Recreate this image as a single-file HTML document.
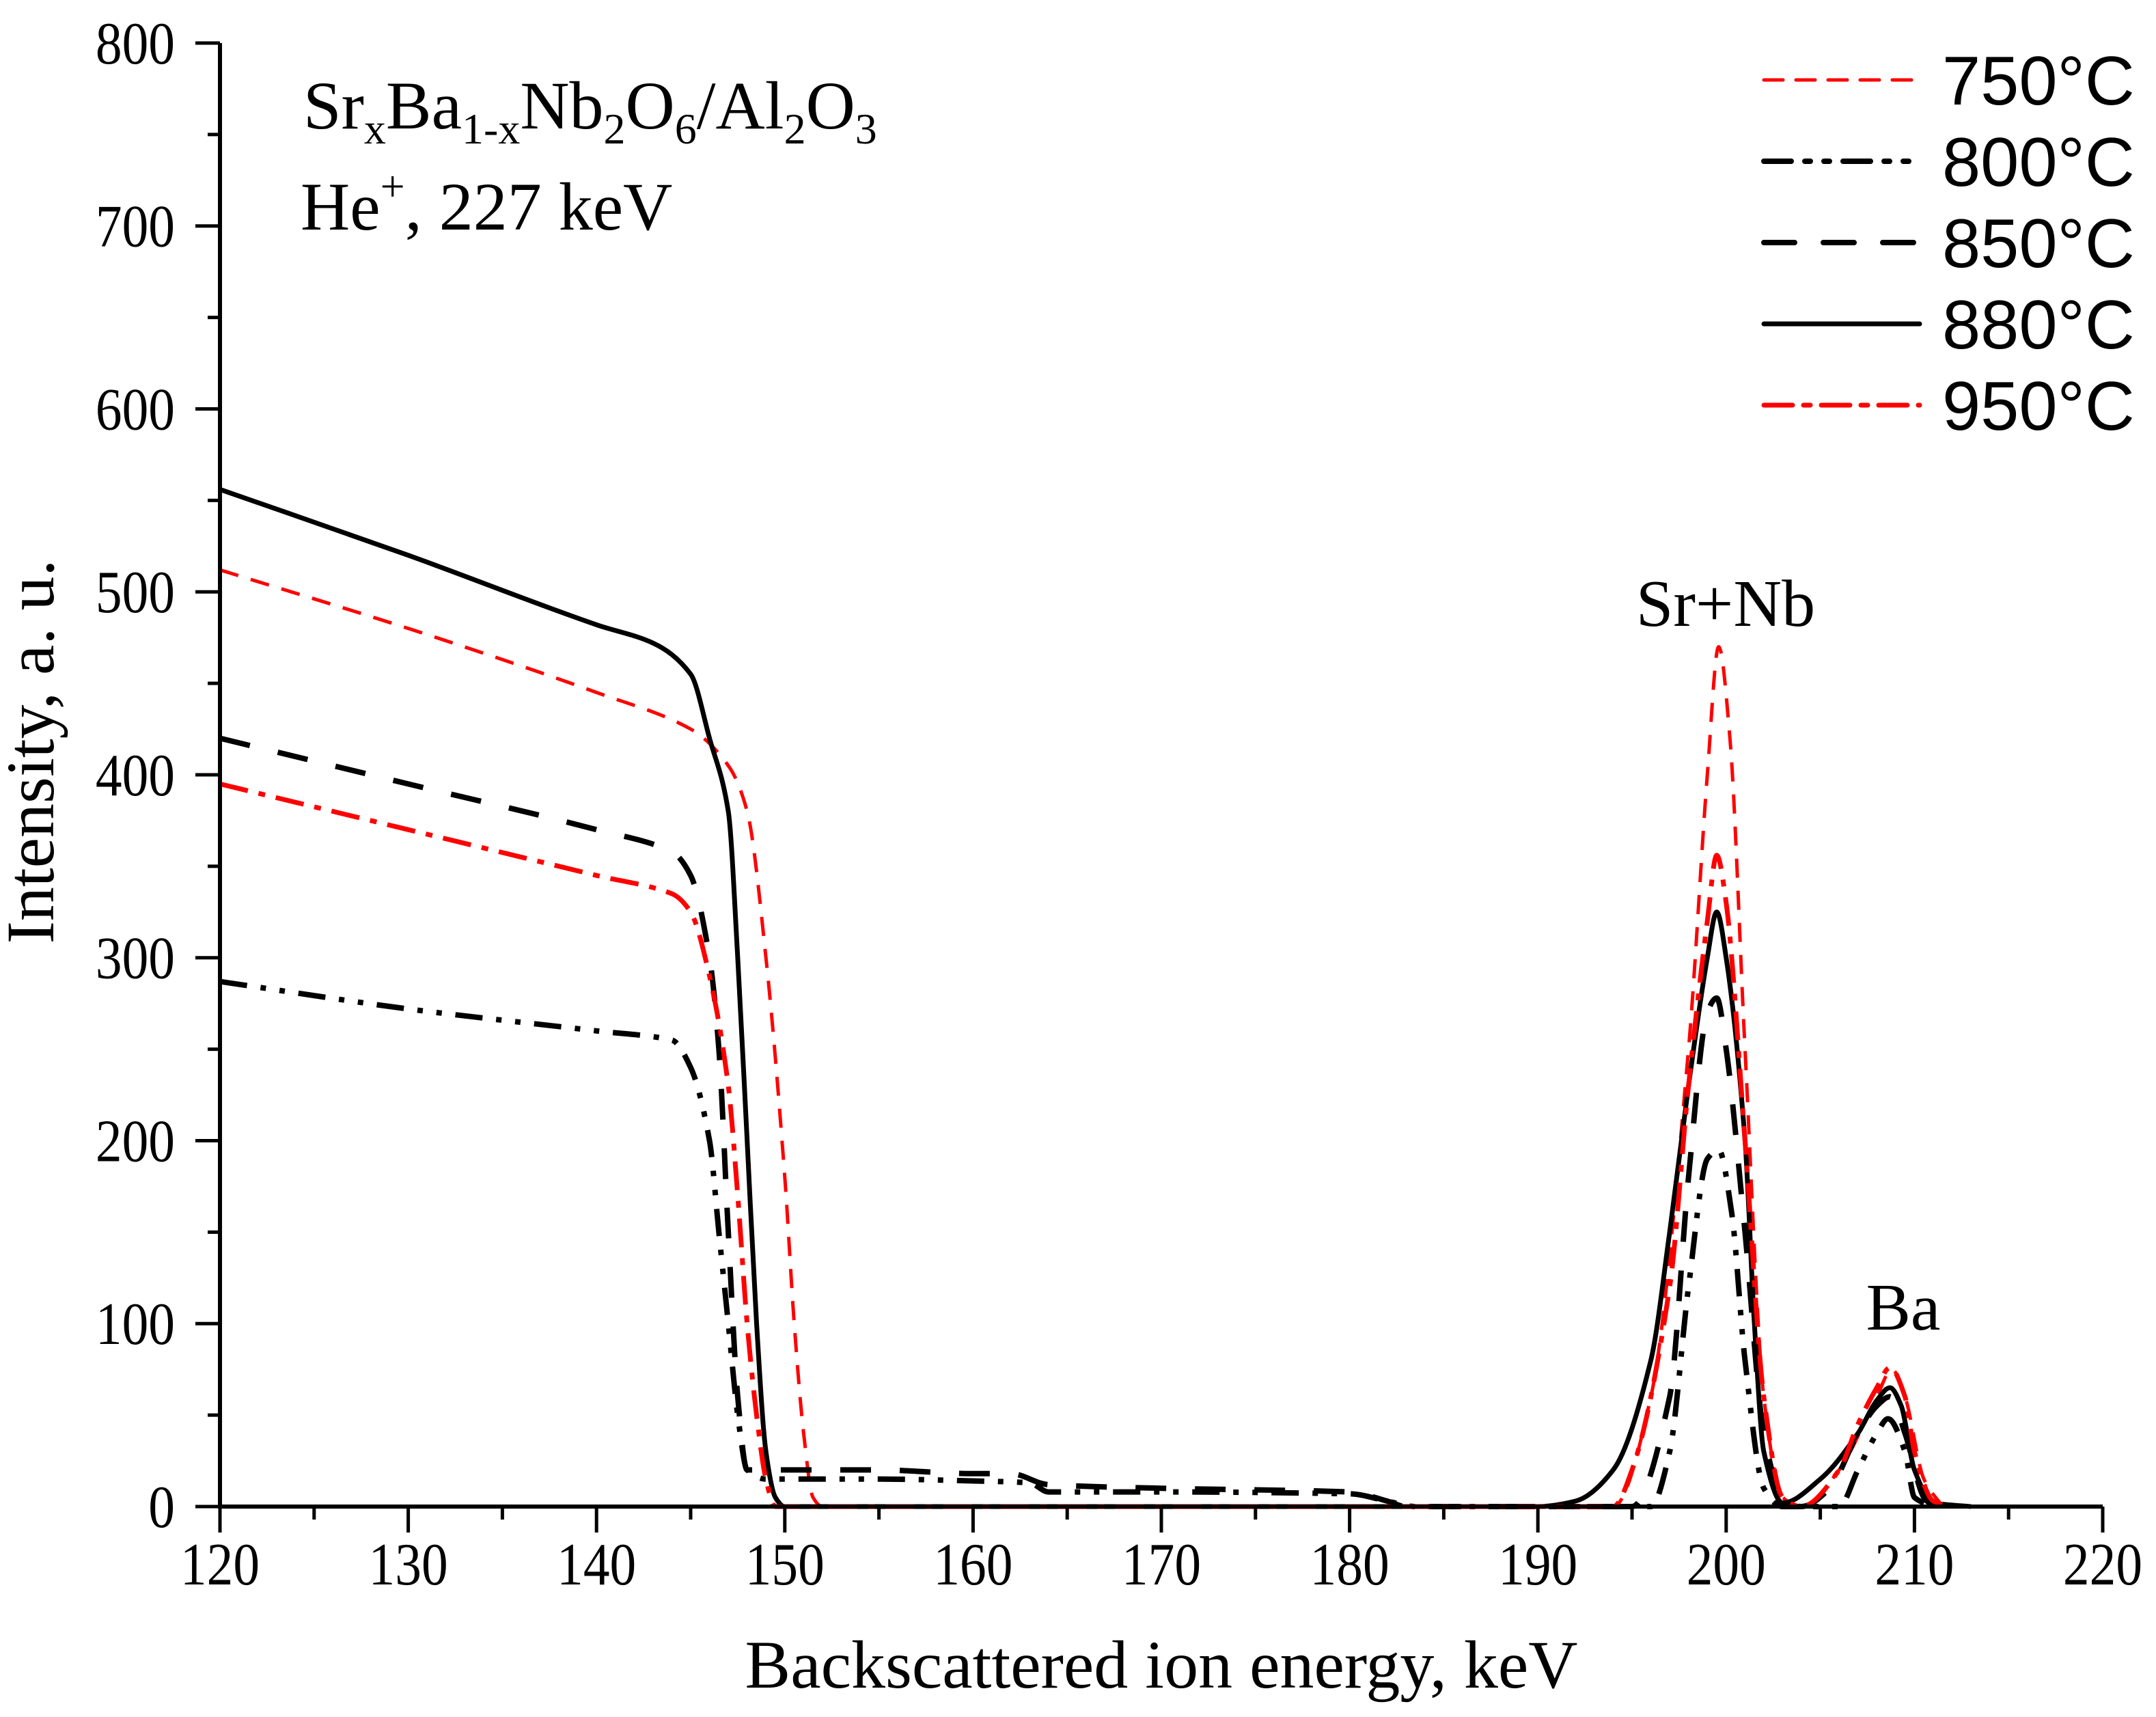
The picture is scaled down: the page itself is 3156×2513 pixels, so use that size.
<!DOCTYPE html>
<html><head><meta charset="utf-8"><style>
html,body{margin:0;padding:0;background:#fff;}
svg{display:block;}
</style></head><body>
<svg id="chart" width="3156" height="2513" viewBox="0 0 3156 2513" xmlns="http://www.w3.org/2000/svg" font-family="'Liberation Serif', serif">
<rect width="3156" height="2513" fill="#fff"/>
<g id="series"></g>
<g id="axes"></g>
<text x="444" y="188" font-size="100">Sr<tspan font-size="64" dy="22">x</tspan><tspan dy="-22">Ba</tspan><tspan font-size="64" dy="22">1-x</tspan><tspan dy="-22">Nb</tspan><tspan font-size="64" dy="22">2</tspan><tspan dy="-22">O</tspan><tspan font-size="64" dy="22">6</tspan><tspan dy="-22">/Al</tspan><tspan font-size="64" dy="22">2</tspan><tspan dy="-22">O</tspan><tspan font-size="64" dy="22">3</tspan></text>
<text x="440" y="336" font-size="100">He<tspan font-size="64" dy="-42">+</tspan><tspan dy="42">, 227 keV</tspan></text>
<text x="2526" y="916" font-size="98" text-anchor="middle">Sr+Nb</text>
<text x="2786" y="1946" font-size="98" text-anchor="middle">Ba</text>
<text x="1700" y="2470" font-size="100" text-anchor="middle">Backscattered ion energy, keV</text>
<text transform="translate(78,1100) rotate(-90)" font-size="100" text-anchor="middle">Intensity, a. u.</text>
<g id="legend"></g>
</svg>
<script>
const NS='http://www.w3.org/2000/svg';
const xTicks=[120,130,140,150,160,170,180,190,200,210,220];
const yTicks=[0,100,200,300,400,500,600,700,800];
const legendLabels=['750°C','800°C','850°C','880°C','950°C'];
const x750=[120,130,140,145,147,148,149,150,150.5,151,151.5,152,194,196,198,199,199.6,200.2,201,202,203,204,206,208,208.8,209.5,210.5,211.5];
const y750=[512,480,445,425,405,380,300,180,100,40,5,0,0,60,250,400,470,420,250,60,5,0,20,60,75,60,15,0];
const x800=[120,130,140,144,145,146,146.5,147,147.5,148,149,155,160,163,164,170,180,182,183.5,196,197,198,199,199.6,200.3,201,202,203,206,207,208,208.6,209.5,210,211];
const y800=[287,272,260,255,240,200,150,100,50,20,15,15,14,13,8,8,7,3,0,0,30,120,190,195,160,80,10,0,0,20,40,48,30,5,0];
const x850=[120,130,140,144,145,146,146.5,147,147.5,148,149,150,155,160,162,164,170,180,182,183,195,197,198,199,199.5,200,201,202,203,204,205.5,207,208,208.7,209.5,210.5,211];
const y850=[420,395,370,358,345,300,250,150,60,20,20,20,20,18,18,12,10,8,3,0,0,60,180,270,278,250,150,40,5,0,10,40,55,60,40,5,0];
const x880=[120,130,140,143,145,146,147,147.5,148,148.5,149,149.5,150,190,192,194,196,197,198,199,199.5,200,201,201.5,202,203,205,207,208,208.7,209.3,210,211,213];
const y880=[556,520,482,472,455,420,380,300,200,100,30,5,0,0,3,20,80,150,230,300,325,300,200,100,30,2,15,40,58,65,55,20,2,0];
const x950=[120,130,140,144,145,146,147,147.5,148,148.5,149,149.5,194,195,197,198,199,199.5,200,201,202,203,204,206,207,208,208.7,209.5,210,211,212];
const y950=[395,370,345,335,325,290,230,170,100,50,15,0,0,20,120,230,320,356,330,200,60,5,0,20,45,65,76,60,30,3,0];
const X0=322,X1=3078,Y0=2205,Y1=63;
function sx(v){return X0+(v-120)/(220-120)*(X1-X0);}
function sy(v){return Y0-(v/800)*(Y0-Y1);}
function mk(tag,attrs,parent){const e=document.createElementNS(NS,tag);for(const k in attrs)e.setAttribute(k,attrs[k]);parent.appendChild(e);return e;}
function monoPath(px,py){
 const n=px.length,d=[],m=new Array(n);
 for(let i=0;i<n-1;i++)d.push((py[i+1]-py[i])/(px[i+1]-px[i]));
 m[0]=d[0];m[n-1]=d[n-2];
 for(let i=1;i<n-1;i++){m[i]=(d[i-1]*d[i]<=0)?0:2/(1/d[i-1]+1/d[i]);}
 let s='M'+px[0].toFixed(1)+','+py[0].toFixed(1);
 for(let i=0;i<n-1;i++){const h=px[i+1]-px[i];
  s+=' C'+(px[i]+h/3).toFixed(1)+','+(py[i]+m[i]*h/3).toFixed(1)+' '+(px[i+1]-h/3).toFixed(1)+','+(py[i+1]-m[i+1]*h/3).toFixed(1)+' '+px[i+1].toFixed(1)+','+py[i+1].toFixed(1);}
 return s;}
const styles=[
 {c:'#ff0000',w:5,d:'28 19'},
 {c:'#000',w:8,d:'40 20 8 20 8 20'},
 {c:'#000',w:8,d:'45 42'},
 {c:'#000',w:7,d:''},
 {c:'#ff0000',w:7,d:'42 16 10 16'}];
const XS=[x750,x800,x850,x880,x950],YS=[y750,y800,y850,y880,y950];
const names=['series-750c','series-800c','series-850c','series-880c','series-950c'];
const sg=document.getElementById('series');
const bl=mk('line',{x1:sx(120),y1:sy(0),x2:sx(210),y2:sy(0),stroke:'#ff0000','stroke-width':5,'stroke-dasharray':'28 19'},sg);


for(let i=0;i<5;i++){
 const px=XS[i].map(sx),py=YS[i].map(sy);
 const p=mk('path',{d:monoPath(px,py),fill:'none',stroke:styles[i].c,'stroke-width':styles[i].w,'stroke-linejoin':'round','stroke-dasharray':styles[i].d},sg);
 
 
}
const ag=document.getElementById('axes');
const xa=mk('line',{x1:X0,y1:Y0,x2:X1,y2:Y0,stroke:'#000','stroke-width':6},ag);


const ya=mk('line',{x1:X0,y1:Y0+3,x2:X0,y2:Y1,stroke:'#000','stroke-width':6},ag);


xTicks.forEach((v,i)=>{
 mk('line',{x1:sx(v),y1:Y0,x2:sx(v),y2:Y0+38,stroke:'#000','stroke-width':5},ag);
 if(i<xTicks.length-1)mk('line',{x1:sx(v+5),y1:Y0,x2:sx(v+5),y2:Y0+19,stroke:'#000','stroke-width':5},ag);
 const t=mk('text',{x:sx(v),y:Y0+114,'font-size':88,'text-anchor':'middle',transform:'translate('+sx(v)+',0) scale(0.88,1) translate('+(-sx(v))+',0)'},ag);t.textContent=v;
 
 
});
yTicks.forEach((v,i)=>{
 mk('line',{x1:X0,y1:sy(v),x2:X0-36,y2:sy(v),stroke:'#000','stroke-width':5},ag);
 if(i<yTicks.length-1)mk('line',{x1:X0,y1:sy(v+50),x2:X0-18,y2:sy(v+50),stroke:'#000','stroke-width':5},ag);
 const t=mk('text',{x:256,y:sy(v)+30,'font-size':88,'text-anchor':'end',transform:'translate(256,0) scale(0.88,1) translate(-256,0)'},ag);t.textContent=v;
 
 
});
const lg=document.getElementById('legend');
legendLabels.forEach((lab,i)=>{
 const y=117+i*119;
 const l=mk('line',{x1:2582,y1:y,x2:2810,y2:y,stroke:styles[i].c,'stroke-width':styles[i].w,'stroke-dasharray':styles[i].d,'stroke-linecap':'round'},lg);
 
 
 const t=mk('text',{x:2843,y:y+36,'font-size':101,'font-family':"'Liberation Sans', sans-serif"},lg);t.textContent=lab;
 
 
});
</script>
</body></html>
